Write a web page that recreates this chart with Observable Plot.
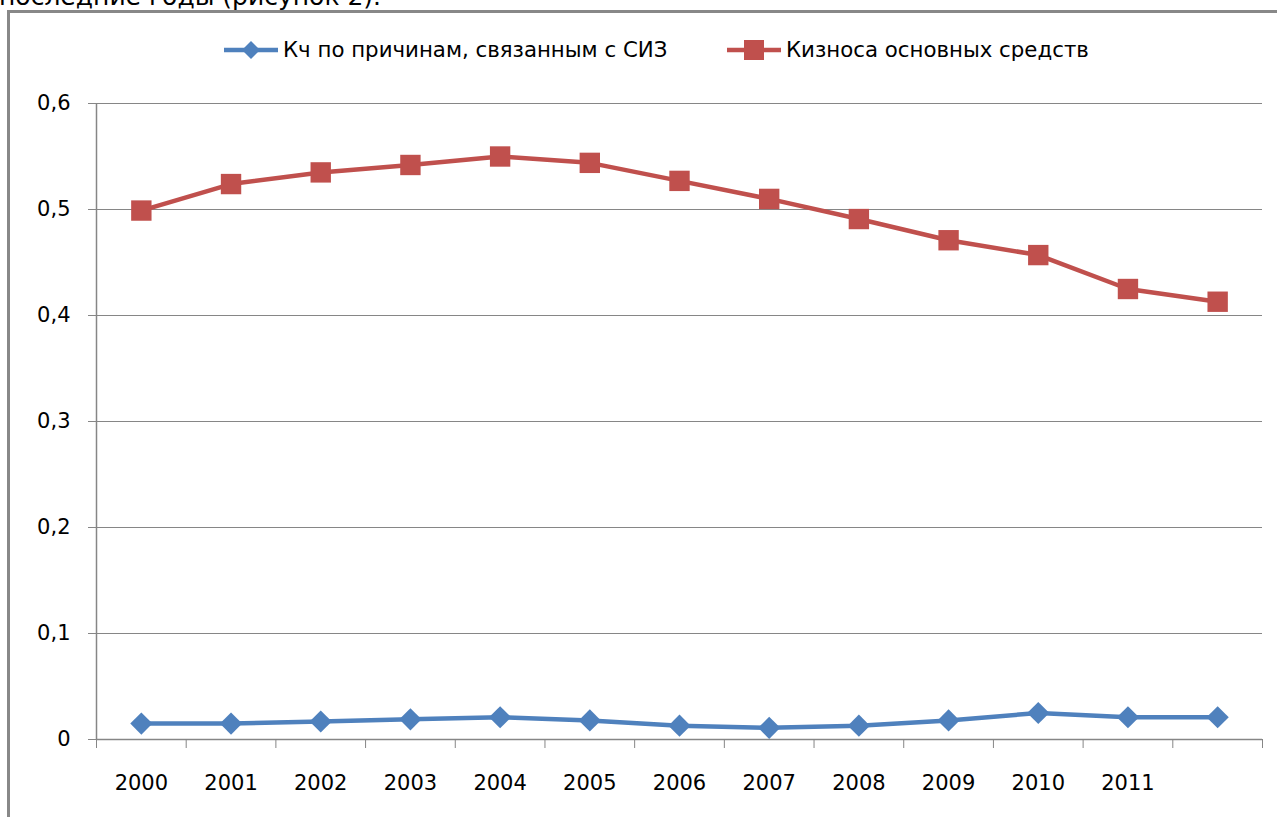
<!DOCTYPE html>
<html>
<head>
<meta charset="utf-8">
<script src="https://cdn.jsdelivr.net/npm/d3@7"></script>
<script src="https://cdn.jsdelivr.net/npm/@observablehq/plot@0.6"></script>
<style>
  html, body { margin: 0; padding: 0; background: #fff; overflow: hidden; }
  body { width: 1277px; height: 817px; position: relative; font-family: "DejaVu Sans", sans-serif; }
  #doctext { position: absolute; left: -1px; top: -18px; font-size: 25px; color: #000; white-space: nowrap; }
  #frame { position: absolute; left: 7px; top: 10px; width: 1400px; height: 900px; border-left: 3px solid #888; border-top: 3px solid #888; }
  #chart { position: absolute; left: 0; top: 0; }
  .leg { position: absolute; top: 37px; display: flex; align-items: center; font-size: 21.3px; color: #000; white-space: nowrap; }
  .leg svg { margin-right: 5px; }
</style>
</head>
<body>
<div id="doctext">последние годы (рисунок 2).</div>
<div id="frame"></div>
<div id="chart"></div>
<div class="leg" id="leg1" style="left:224px"></div>
<div class="leg" id="leg2" style="left:727px"></div>
<script>
const years = ["2000","2001","2002","2003","2004","2005","2006","2007","2008","2009","2010","2011",""];
const kchSiz = [0.015,0.015,0.017,0.019,0.021,0.018,0.013,0.011,0.013,0.018,0.025,0.021,0.021];
const kIznosa = [0.499,0.524,0.535,0.542,0.550,0.544,0.527,0.510,0.491,0.471,0.457,0.425,0.413];
const seriesNames = ["Кч по причинам, связанным с СИЗ", "Кизноса основных средств"];
const colors = ["#4F81BD", "#C0504D"];
const yTicks = [0, 0.1, 0.2, 0.3, 0.4, 0.5, 0.6];

const idx = years.map((_, i) => i);
const d1 = idx.map(i => ({i, v: kchSiz[i]}));
const d2 = idx.map(i => ({i, v: kIznosa[i]}));
const bounds = d3.range(years.length + 1).map(k => k - 0.5);

const fmt = v => v === 0 ? "0" : v.toFixed(1).replace(".", ",");

const plot = Plot.plot({
  width: 1277,
  height: 817,
  marginTop: 103,
  marginBottom: 78,
  marginLeft: 96,
  marginRight: 15,
  style: {fontFamily: "DejaVu Sans, sans-serif", fontSize: "20px", color: "#000", background: "transparent"},
  x: {type: "linear", domain: [-0.5, years.length - 0.5]},
  y: {domain: [0, 0.6]},
  marks: [
    Plot.gridY(yTicks, {stroke: "#868686", strokeOpacity: 1, strokeWidth: 1}),
    Plot.axisY(yTicks, {tickFormat: fmt, tickSize: 8, tickPadding: 18, stroke: "#868686", strokeOpacity: 1, fontSize: 21, label: null}),
    Plot.ruleX([-0.5], {y1: 0, y2: 0.6, stroke: "#868686", strokeWidth: 1.5}),
    Plot.ruleY([0], {stroke: "#868686", strokeWidth: 1.5}),
    Plot.axisX(bounds, {tickFormat: () => "", tickSize: 9, stroke: "#868686", strokeOpacity: 1, label: null}),
    Plot.axisX(idx.slice(0, 12), {tickFormat: i => years[i], tickSize: 0, tickPadding: 36, fontSize: 21, label: null}),
    Plot.line(d2, {x: "i", y: "v", stroke: colors[1], strokeWidth: 4.5}),
    Plot.dot(d2, {x: "i", y: "v", symbol: "square", r: 11.5, fill: colors[1], stroke: "none"}),
    Plot.line(d1, {x: "i", y: "v", stroke: colors[0], strokeWidth: 4.5}),
    Plot.dot(d1, {x: "i", y: "v", symbol: "diamond2", r: 10, fill: colors[0], stroke: "none"})
  ]
});
document.getElementById("chart").appendChild(plot);

function legendSwatch(color, kind) {
  const ns = "http://www.w3.org/2000/svg";
  const svg = document.createElementNS(ns, "svg");
  svg.setAttribute("width", 54); svg.setAttribute("height", 24);
  const line = document.createElementNS(ns, "line");
  line.setAttribute("x1", 0); line.setAttribute("x2", 54);
  line.setAttribute("y1", 12); line.setAttribute("y2", 12);
  line.setAttribute("stroke", color); line.setAttribute("stroke-width", 4.5);
  svg.appendChild(line);
  if (kind === "square") {
    const r = document.createElementNS(ns, "rect");
    r.setAttribute("x", 17); r.setAttribute("y", 2); r.setAttribute("width", 20); r.setAttribute("height", 20);
    r.setAttribute("fill", color); svg.appendChild(r);
  } else {
    const p = document.createElementNS(ns, "path");
    p.setAttribute("d", "M27,3 L36,12 L27,21 L18,12 Z");
    p.setAttribute("fill", color); svg.appendChild(p);
  }
  return svg;
}
const l1 = document.getElementById("leg1");
l1.appendChild(legendSwatch(colors[0], "diamond"));
l1.appendChild(document.createTextNode(seriesNames[0]));
const l2 = document.getElementById("leg2");
l2.appendChild(legendSwatch(colors[1], "square"));
l2.appendChild(document.createTextNode(seriesNames[1]));
</script>
</body>
</html>
